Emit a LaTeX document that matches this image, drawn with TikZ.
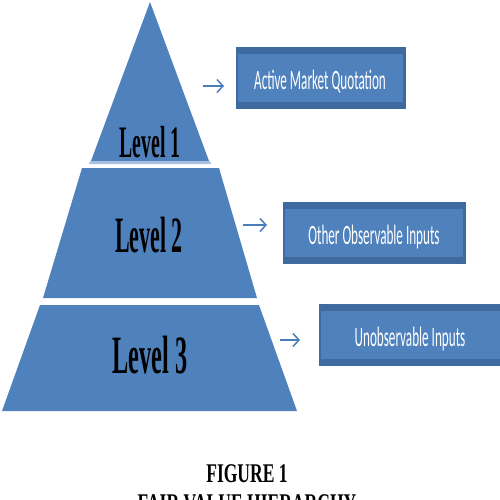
\documentclass[tikz,border=0pt]{standalone}
\usepackage{fontspec}
\setmainfont{Liberation Serif}
\newfontfamily\boxfont{Carlito}
\usetikzlibrary{arrows.meta}
\definecolor{pyblue}{HTML}{4F81BD}
\definecolor{pydark}{HTML}{3F6A9F}
\definecolor{pylight}{HTML}{A9C0E0}
\definecolor{arrowblue}{HTML}{4A7EBB}
\tikzset{
  layer/.style={fill=pyblue, draw=none},
  lvl/.style={text=black, inner sep=0pt, font=\bfseries},
  boxouter/.style={fill=pydark, draw=pydark, line width=0.8pt},
  boxinner/.style={fill=pyblue, draw=none},
  boxtext/.style={text=white, inner sep=0pt},
  pointer/.style={draw=arrowblue, line width=1.5pt, -{Straight Barb[length=6pt,width=13pt,line width=1.5pt]}},
  captext/.style={inner sep=0pt, font=\bfseries}
}
\begin{document}
\begin{tikzpicture}[x=1pt,y=-1pt]
\path[use as bounding box] (0,0) rectangle (500,500);
\clip (0,0) rectangle (500,500);
% pyramid layers
\fill[layer] (150,2) -- (91,161) -- (209,161) -- cycle;
\fill[pylight] (90,161) -- (210,161) -- (211,164) -- (89,164) -- cycle;
\fill[layer] (82,168) -- (219,168) -- (257,298) -- (43,298) -- cycle;
\fill[layer] (40,305) -- (259,305) -- (297,411) -- (2,411) -- cycle;
% level labels
\node[lvl] (l1) at (150,142) {\scalebox{0.44}[1]{\fontsize{45}{45}\selectfont Level 1}};
\node[lvl] (l2) at (149,235) {\scalebox{0.43}[1]{\fontsize{51}{51}\selectfont Level 2}};
\node[lvl] (l3) at (150,355) {\scalebox{0.45}[1]{\fontsize{54}{54}\selectfont Level 3}};
% boxes
\fill[boxouter] (236,47) rectangle (405,108);
\fill[boxinner] (238,54) rectangle (403,102);
\node[boxtext] (b1) at (320,82) {\scalebox{0.47}[1]{\boxfont\fontsize{28}{28}\selectfont Active Market Quotation}};
\fill[boxouter] (283,202) rectangle (465,263);
\fill[boxinner] (285,209) rectangle (463,257);
\node[boxtext] (b2) at (374,237) {\scalebox{0.47}[1]{\boxfont\fontsize{28}{28}\selectfont Other Observable Inputs}};
\fill[boxouter] (319,304) rectangle (501,365);
\fill[boxinner] (321,311) rectangle (501,359);
\node[boxtext] (b3) at (410,339) {\scalebox{0.47}[1]{\boxfont\fontsize{28}{28}\selectfont Unobservable Inputs}};
% arrows
\coordinate (a1s) at (203,86); \coordinate (a1e) at (224,86);
\coordinate (a2s) at (243,225); \coordinate (a2e) at (267,225);
\coordinate (a3s) at (280,340); \coordinate (a3e) at (300,340);
\draw[pointer] (a1s) -- (a1e);
\draw[pointer] (a2s) -- (a2e);
\draw[pointer] (a3s) -- (a3e);
% caption
\node[captext] (c1) at (247,474) {\scalebox{0.65}[1]{\fontsize{27}{27}\selectfont FIGURE 1}};
\node[captext, anchor=north] (c2) at (247,494) {\scalebox{0.65}[1]{\fontsize{27}{27}\selectfont FAIR VALUE HIERARCHY}};
\end{tikzpicture}
\end{document}
